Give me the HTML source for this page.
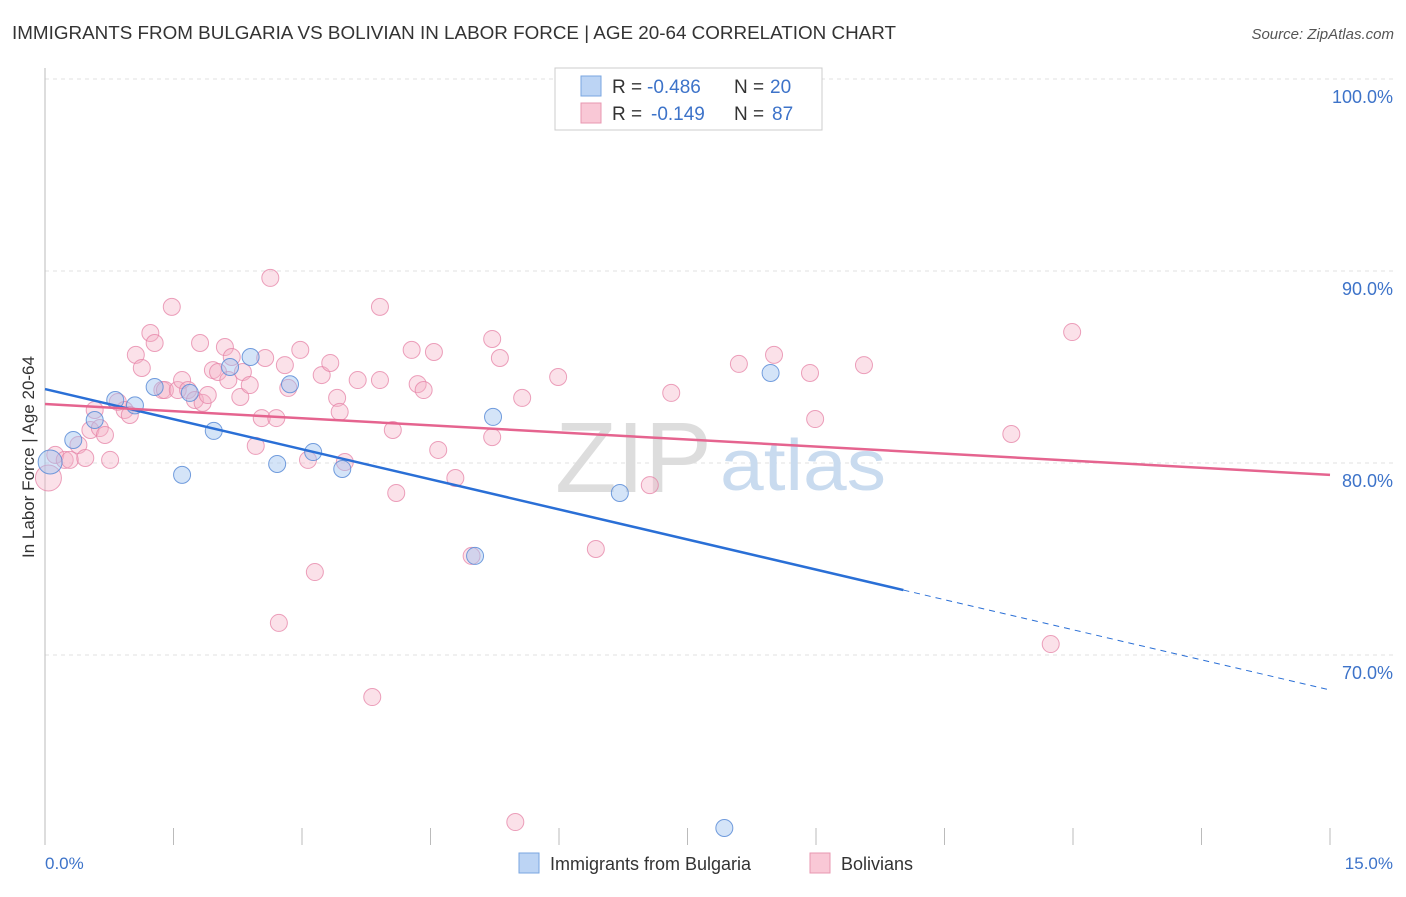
<!DOCTYPE html>
<html><head><meta charset="utf-8"><style>
body{margin:0;background:#fff;font-family:"Liberation Sans",sans-serif;}
svg text{font-family:"Liberation Sans",sans-serif;}
</style></head><body>
<svg id="chart" width="1406" height="892">
<text x="12" y="39" font-size="18" fill="#333" textLength="884" lengthAdjust="spacingAndGlyphs">IMMIGRANTS FROM BULGARIA VS BOLIVIAN IN LABOR FORCE | AGE 20-64 CORRELATION CHART</text>
<text x="1394" y="39" font-size="15" fill="#555" text-anchor="end" font-style="italic">Source: ZipAtlas.com</text>
<g id="grid"></g>
<text x="555" y="492" font-size="100" fill="#ddd" textLength="157" lengthAdjust="spacingAndGlyphs" font-family="Liberation Serif">ZIP</text>
<text x="720" y="490" font-size="72" fill="#c9dbef" textLength="166" lengthAdjust="spacingAndGlyphs">atlas</text>
<g id="pts"></g>
<g id="lines"></g>
<text transform="translate(34,457) rotate(-90)" font-size="17" fill="#333" text-anchor="middle">In Labor Force | Age 20-64</text>
<text x="45" y="869" font-size="17" fill="#3d73c9">0.0%</text>
<text x="1393" y="869" font-size="17" fill="#3d73c9" text-anchor="end">15.0%</text>
<g>
<rect x="555" y="68" width="267" height="62" fill="#fff" stroke="#ccc"/>
<rect x="581" y="76" width="20" height="20" fill="#bcd4f4" stroke="#7aa6e0"/>
<rect x="581" y="103" width="20" height="20" fill="#f9c8d6" stroke="#e897b0"/>
<text x="612" y="93" font-size="19" fill="#333">R =</text>
<text x="647" y="93" font-size="19" fill="#3d73c9">-0.486</text>
<text x="734" y="93" font-size="19" fill="#333">N =</text>
<text x="770" y="93" font-size="19" fill="#3d73c9">20</text>
<text x="612" y="120" font-size="19" fill="#333">R =</text>
<text x="651" y="120" font-size="19" fill="#3d73c9">-0.149</text>
<text x="734" y="120" font-size="19" fill="#333">N =</text>
<text x="772" y="120" font-size="19" fill="#3d73c9">87</text>
</g>
<g>
<rect x="519" y="853" width="20" height="20" fill="#bcd4f4" stroke="#7aa6e0"/>
<text x="550" y="870" font-size="18" fill="#333">Immigrants from Bulgaria</text>
<rect x="810" y="853" width="20" height="20" fill="#f9c8d6" stroke="#e897b0"/>
<text x="841" y="870" font-size="18" fill="#333">Bolivians</text>
</g>
</svg>
<script>
const yTicks=[100,90,80,70];
const yTickLabels=["100.0%","90.0%","80.0%","70.0%"];
const xTicks=[0,1.5,3,4.5,6,7.5,9,10.5,12,13.5,15];
const blueX=[0.06,0.33,0.58,0.82,1.05,1.28,1.60,1.69,1.97,2.16,2.40,2.71,2.86,3.13,3.47,5.02,5.23,6.71,8.47,7.93];
const blueY=[80.05,81.2,82.24,83.28,83.0,83.96,79.38,83.65,81.67,85.0,85.52,79.95,84.1,80.57,79.69,75.16,82.4,78.44,84.69,60.99];
const pinkX=[0.04,0.12,0.23,0.29,0.39,0.47,0.53,0.58,0.64,0.70,0.76,0.85,0.93,0.99,1.06,1.13,1.23,1.28,1.37,1.40,1.48,1.55,1.60,1.67,1.75,1.81,1.84,1.90,1.96,2.02,2.10,2.14,2.18,2.28,2.31,2.39,2.46,2.53,2.57,2.63,2.70,2.73,2.80,2.84,2.98,3.07,3.15,3.23,3.33,3.41,3.44,3.50,3.65,3.82,3.91,3.91,4.06,4.10,4.28,4.35,4.42,4.54,4.59,4.79,4.98,5.22,5.22,5.31,5.49,5.57,5.99,6.43,7.06,7.31,8.10,8.51,8.93,8.99,9.56,11.28,11.74,11.99];
const pinkY=[79.22,80.42,80.16,80.16,80.94,80.26,81.72,82.76,81.82,81.46,80.16,83.18,82.76,82.5,85.63,84.95,86.77,86.25,83.8,83.8,88.13,83.8,84.32,83.8,83.28,86.25,83.13,83.54,84.84,84.74,86.04,84.32,85.52,83.44,84.74,84.06,80.89,82.34,85.47,89.64,82.34,71.67,85.1,83.91,85.89,80.16,74.32,84.58,85.21,83.39,82.66,80.05,84.32,67.81,88.13,84.32,81.72,78.44,85.89,84.11,83.8,85.78,80.68,79.22,75.16,86.46,81.35,85.47,61.3,83.39,84.48,75.52,78.85,83.65,85.16,85.63,84.69,82.29,85.1,81.51,70.57,86.82];
const blueTrend=[83.85,68.18];
const blueSolidEnd=10.02;
const pinkTrend=[83.07,79.38];
const NS="http://www.w3.org/2000/svg";
const sx=v=>45+v*(1285/15);
const sy=v=>79+(100-v)*19.2;
function mk(t,a,p){const e=document.createElementNS(NS,t);for(const k in a)e.setAttribute(k,a[k]);p.appendChild(e);return e;}
const grid=document.getElementById('grid');
yTicks.forEach((t,i)=>{
 const l=mk('line',{x1:45,x2:1393,y1:sy(t),y2:sy(t),stroke:'#e2e2e2','stroke-dasharray':'4,4'},grid);
 
 
 const tx=mk('text',{x:1393,y:sy(t)+24,'font-size':18,fill:'#3d73c9','text-anchor':'end'},grid);
 tx.textContent=yTickLabels[i];
 
 
});
const ax=mk('line',{x1:45,x2:45,y1:68,y2:845,stroke:'#bbb'},grid);


xTicks.forEach(t=>{
 const l=mk('line',{x1:sx(t),x2:sx(t),y1:828,y2:845,stroke:'#bbb'},grid);
 
 
});
const pts=document.getElementById('pts');
pinkX.forEach((x,i)=>{
 const c=mk('circle',{cx:sx(x),cy:sy(pinkY[i]),r:i==0?13:8.5,fill:'rgba(244,175,198,0.38)',stroke:'rgba(230,130,165,0.75)','stroke-width':1},pts);
 
 
});
blueX.forEach((x,i)=>{
 const c=mk('circle',{cx:sx(x),cy:sy(blueY[i]),r:i==0?12:8.5,fill:'rgba(160,195,240,0.45)',stroke:'rgba(90,140,215,0.85)','stroke-width':1},pts);
 
 
});
const lines=document.getElementById('lines');
const by=x=>blueTrend[0]+(blueTrend[1]-blueTrend[0])*x/15;
let l1=mk('line',{x1:sx(0),y1:sy(by(0)),x2:sx(blueSolidEnd),y2:sy(by(blueSolidEnd)),stroke:'#2a6fd6','stroke-width':2.5},lines);


let l2=mk('line',{x1:sx(blueSolidEnd),y1:sy(by(blueSolidEnd)),x2:sx(15),y2:sy(by(15)),stroke:'#2a6fd6','stroke-width':1,'stroke-dasharray':'6,5'},lines);


let l3=mk('line',{x1:sx(0),y1:sy(pinkTrend[0]),x2:sx(15),y2:sy(pinkTrend[1]),stroke:'#e5648f','stroke-width':2.5},lines);


</script>
</body></html>
